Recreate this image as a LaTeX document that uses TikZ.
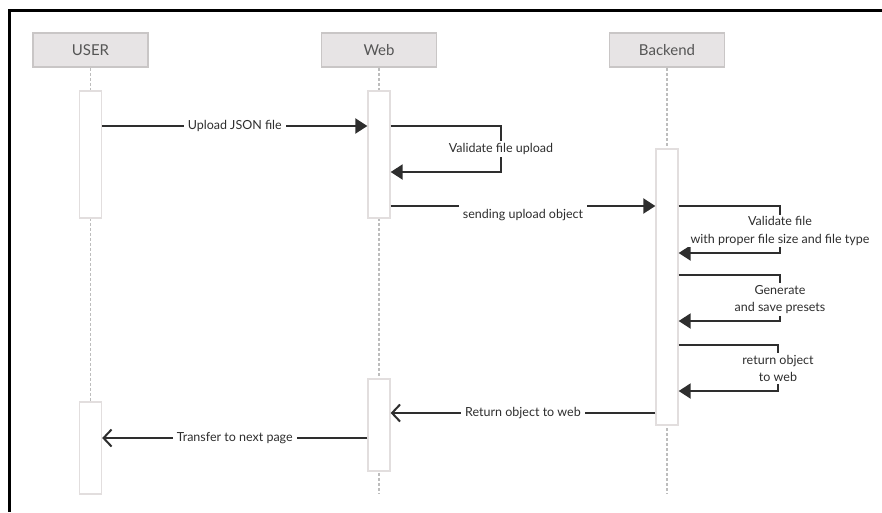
\documentclass[tikz,border=0pt]{standalone}
\usepackage{fontspec}
\setmainfont{Lato}
\usetikzlibrary{arrows.meta}

\definecolor{ink}{HTML}{2E2E2E}
\definecolor{hdrfill}{HTML}{E7E4E5}
\definecolor{hdrline}{HTML}{C9C6C6}
\definecolor{hdrtext}{HTML}{555555}
\definecolor{actline}{HTML}{E2DEDE}
\definecolor{lifeline}{HTML}{BDBDBD}

\tikzset{
  hdr/.style={draw=hdrline, fill=hdrfill, line width=1.5pt, minimum width=115pt,
    minimum height=34pt, inner sep=0pt, text=hdrtext, font=\fontsize{15}{18}\selectfont},
  act/.style={draw=actline, fill=white, line width=1.3pt, minimum width=22pt, inner sep=0pt},
  life/.style={draw=lifeline, line width=1.3pt, dash pattern=on 3pt off 2pt},
  msg/.style={draw=ink, line width=2pt},
  sync/.style={msg, -{Triangle[length=12pt,width=15pt]}},
  reply/.style={msg, -{Straight Barb[length=8pt,width=17pt,line width=2pt]}},
  lbl/.style={fill=white, text=ink, inner xsep=4pt, inner ysep=2pt,
    font=\fontsize{12.5}{17.5}\selectfont, align=center},
}

\begin{document}
\begin{tikzpicture}[x=1pt,y=-1pt]
  \useasboundingbox (0,0) rectangle (882,512);

  % window frame
  \draw[line width=2.2pt] (882,10.5) -- (9.5,10.5) -- (9.5,512);

  % participants
  \node[hdr] (user)    at (90.5,50)  {USER};
  \node[hdr] (web)     at (379,50)   {Web};
  \node[hdr] (backend) at (667,50)   {Backend};

  % lifeline ends
  \coordinate (userend)    at (90.5,494);
  \coordinate (webend)     at (379,494);
  \coordinate (backendend) at (667,494);

  \draw[life] (user.south)    -- (userend);
  \draw[life] (web.south)     -- (webend);
  \draw[life] (backend.south) -- (backendend);

  % activation bars
  \node[act, minimum height=127pt] (ua1) at (90.5,154.5) {};
  \node[act, minimum height=92pt]  (ua2) at (90.5,448)   {};
  \node[act, minimum height=127pt] (wa1) at (379,154.5)  {};
  \node[act, minimum height=92pt]  (wa2) at (379,425)    {};
  \node[act, minimum height=276pt] (ba)  at (667,287)    {};

  % turning points of self messages
  \coordinate (w1) at (501,126);
  \coordinate (w2) at (501,172);
  \coordinate (b1) at (780,206);
  \coordinate (b2) at (780,253);
  \coordinate (b3) at (780,275);
  \coordinate (b4) at (780,321);
  \coordinate (b5) at (778,345);
  \coordinate (b6) at (778,391);

  % USER -> Web
  \draw[sync] (ua1.east |- 0,126) -- node[lbl] {Upload JSON file} (wa1.west |- 0,126);

  % Web validates the upload
  \draw[sync] (wa1.east |- w1) -- (w1) -- (w2) -- (wa1.east |- w2);
  \node[lbl] (wl) at (501,149) {Validate file upload};

  % Web -> Backend
  \draw[sync] (wa1.east |- 0,206) -- (ba.west |- 0,206);
  \node[lbl, inner ysep=6pt] (sl) at (523,215) {sending upload object};

  % Backend self messages
  \draw[sync] (ba.east |- b1) -- (b1) -- (b2) -- (ba.east |- b2);
  \node[lbl] (bl1) at (780,231) {Validate file\\with proper file size and file type};

  \draw[sync] (ba.east |- b3) -- (b3) -- (b4) -- (ba.east |- b4);
  \node[lbl] (bl2) at (780,299.5) {Generate\\and save presets};

  \draw[sync] (ba.east |- b5) -- (b5) -- (b6) -- (ba.east |- b6);
  \node[lbl] (bl3) at (778,368.5) {return object\\to web};

  % Backend -> Web
  \draw[reply] (ba.west |- 0,413) -- node[lbl] {Return object to web} (wa2.east |- 0,413);

  % Web -> USER
  \draw[reply] (wa2.west |- 0,438) -- node[lbl] {Transfer\ to next page} (ua2.east |- 0,438);
\end{tikzpicture}
\end{document}
